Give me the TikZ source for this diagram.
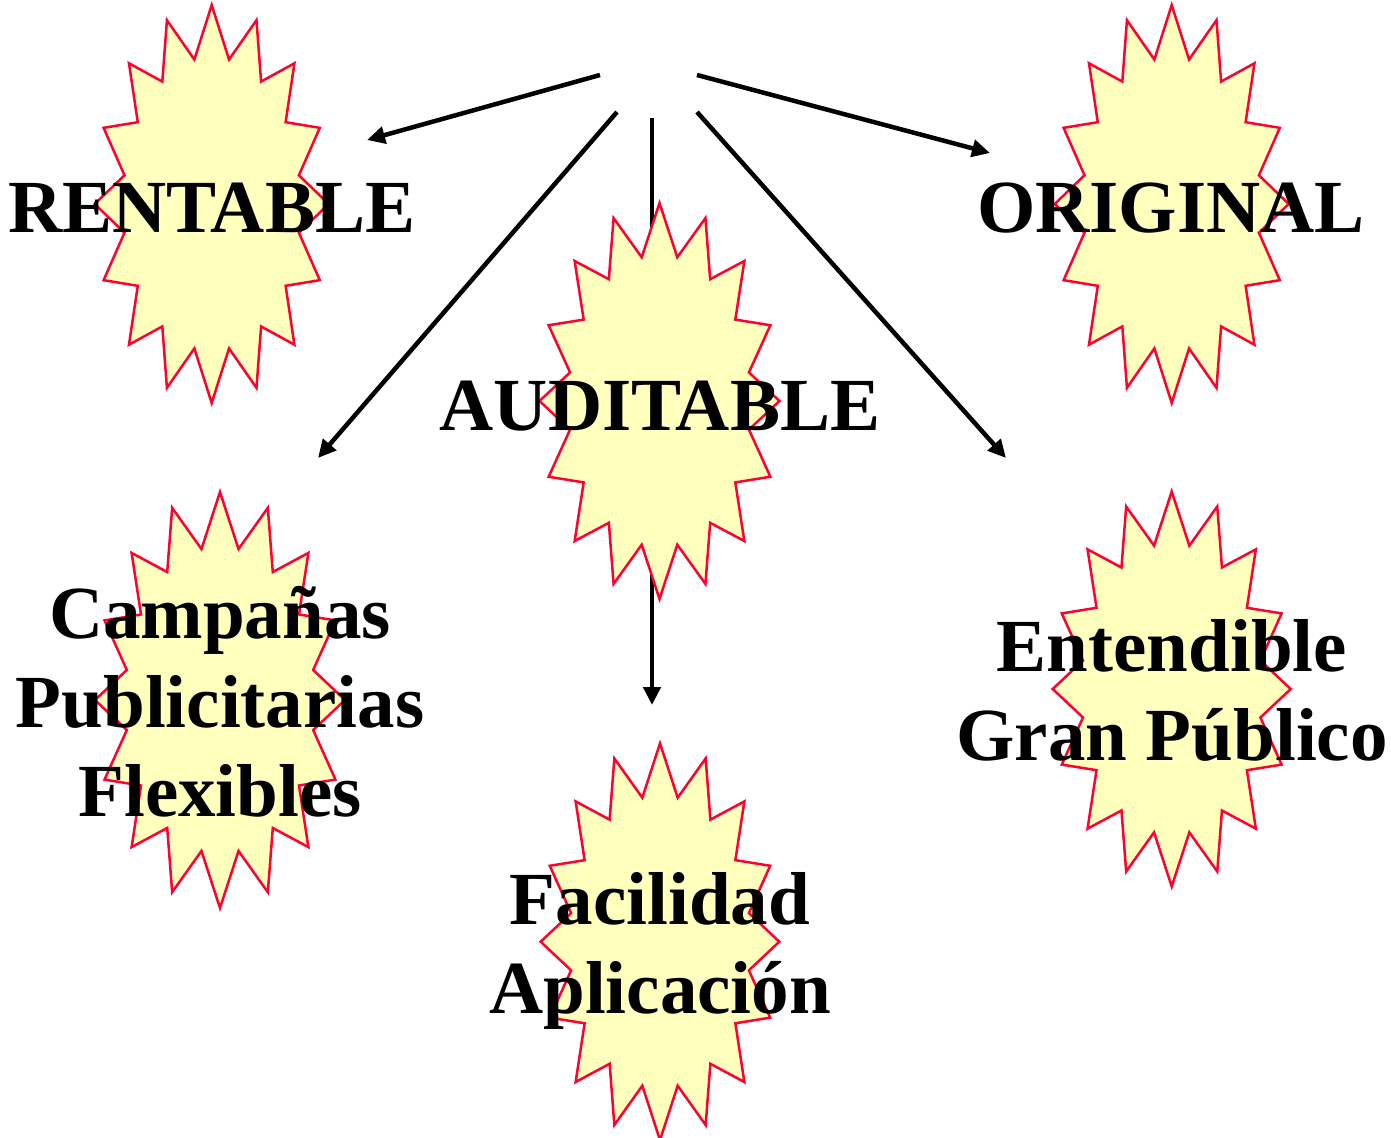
\documentclass[tikz,border=0pt]{standalone}
\usepackage{fontspec}
\setmainfont{Liberation Serif}
\usetikzlibrary{arrows.meta}
\definecolor{starfill}{RGB}{255,255,190}
\definecolor{starline}{RGB}{255,0,51}
\tikzset{
  burst/.style={fill=starfill, draw=starline, line width=2.5pt, line join=miter},
  lbl/.style={font=\fontsize{75}{89}\selectfont\bfseries, align=center, inner sep=0pt},
  conn/.style={line width=4.5pt, -{Triangle[length=18pt,width=17pt]}},
}
\newcommand{\burstshape}[4]{%
  \path[burst] ({#1+#3},{#2}) \foreach \k in {0,...,15}{ -- ({#1+0.76*#3*cos(\k*22.5+11.25)},{#2+0.74*#4*sin(\k*22.5+11.25)}) -- ({#1+#3*cos(\k*22.5+22.5)},{#2+#4*sin(\k*22.5+22.5)}) } -- cycle;}
\begin{document}
\begin{tikzpicture}[x=1pt,y=-1pt]
\useasboundingbox (0,0) rectangle (1391,1137);
% connector ends
\coordinate (s1) at (600,75);
\coordinate (t1) at (367,140);
\coordinate (s2) at (697,75);
\coordinate (t2) at (990,153);
\coordinate (s3) at (617,112);
\coordinate (t3) at (318,458);
\coordinate (s4) at (697,112);
\coordinate (t4) at (1006,458);
\coordinate (s5) at (652,118);
\coordinate (t5) at (652,705);
\draw[conn] (s1) -- (t1);
\draw[conn] (s2) -- (t2);
\draw[conn] (s3) -- (t3);
\draw[conn] (s4) -- (t4);
\draw[conn] (s5) -- (t5);
% bursts
\burstshape{211.7}{204}{117}{199}
\burstshape{1171.7}{204}{117}{199}
\burstshape{659.5}{401}{120}{198}
\burstshape{220}{700}{125}{208}
\burstshape{1171.7}{689}{119}{197.5}
\burstshape{660}{941.7}{119.3}{198.4}
% labels (base = baseline of the last line)
\node[lbl, anchor=base] (rent) at (211.7,232) {RENTABLE};
\node[lbl, anchor=base] (orig) at (1171,232) {ORIGINAL};
\node[lbl, anchor=base] (audit) at (660,430) {AUDITABLE};
\node[lbl, anchor=base] (camp) at (220,816) {Campañas\\Publicitarias\\Flexibles};
\node[lbl, anchor=base] (ent) at (1172,760) {Entendible\\Gran Público};
\node[lbl, anchor=base] (fac) at (660,1013) {Facilidad\\Aplicación};
\end{tikzpicture}
\end{document}
